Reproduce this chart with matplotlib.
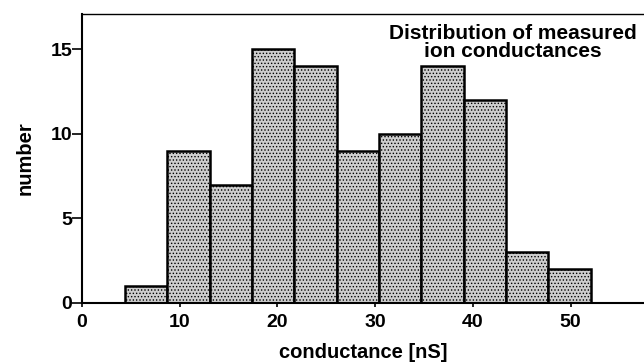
import matplotlib
matplotlib.use("Agg")
import matplotlib.pyplot as plt
import numpy as np

# histogram of measured ion conductances
bin_edges = [4.4, 8.73, 13.07, 17.4, 21.73, 26.07, 30.4, 34.73, 39.07, 43.4, 47.73, 52.07]
counts = [1, 9, 7, 15, 14, 9, 10, 14, 12, 3, 2]
x_ticks = [0, 10, 20, 30, 40, 50]
y_ticks = [0, 5, 10, 15]

plt.rcParams['font.family'] = ['Liberation Sans', 'DejaVu Sans']
plt.rcParams['hatch.color'] = '#7a7a7a'
plt.rcParams['hatch.linewidth'] = 0.6

fig = plt.figure(figsize=(6.44, 3.64), dpi=100)
ax = fig.add_axes([0.127, 0.168, 0.873, 0.794])

edges = np.array(bin_edges)
ax.bar(edges[:-1], counts, width=np.diff(edges), align='edge',
       facecolor='#cdcdcd', edgecolor='black', linewidth=1.8,
       hatch='.....', zorder=2)

ax.set_xlim(0, 57.5)
ax.set_ylim(0, 17.1)
ax.set_xticks(x_ticks)
ax.set_yticks(y_ticks)
ax.tick_params(axis='y', direction='out', length=7, width=1.2, labelsize=14, pad=0)
ax.tick_params(axis='x', direction='out', length=3, width=1.2, labelsize=14, pad=5)
for lab in ax.get_xticklabels() + ax.get_yticklabels():
    lab.set_fontweight('bold')

ax.spines['right'].set_visible(False)
ax.spines['top'].set_linewidth(1.0)
for s in ['left', 'bottom']:
    ax.spines[s].set_linewidth(1.5)

ax.set_xlabel('conductance [nS]', fontsize=14.5, fontweight='bold', labelpad=9)
ax.set_ylabel('number', fontsize=14.5, fontweight='bold', labelpad=11)

ax.text(44.1, 16.5, 'Distribution of measured\nion conductances',
        ha='center', va='top', fontsize=15, fontweight='bold', linespacing=0.95)

fig.savefig('out.png', dpi=100)
